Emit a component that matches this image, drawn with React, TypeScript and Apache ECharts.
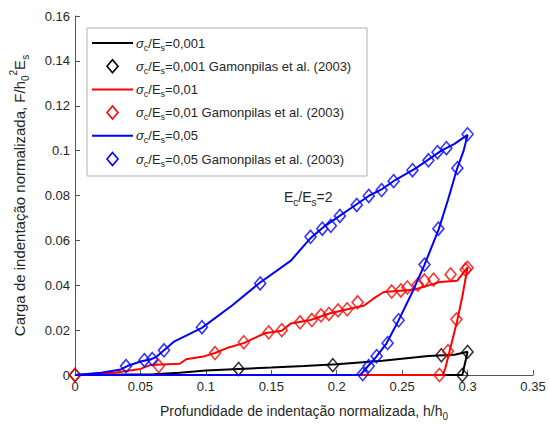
import React, { useEffect, useRef } from "react";
import * as echarts from "echarts";

// ---------- data ----------
const xTicks = [0, 0.05, 0.1, 0.15, 0.2, 0.25, 0.3, 0.35];
const yTicks = [0, 0.02, 0.04, 0.06, 0.08, 0.1, 0.12, 0.14, 0.16];

const seriesNames = [
  "σc/Es=0,001",
  "σc/Es=0,001 Gamonpilas et al. (2003)",
  "σc/Es=0,01",
  "σc/Es=0,01 Gamonpilas et al. (2003)",
  "σc/Es=0,05",
  "σc/Es=0,05 Gamonpilas et al. (2003)",
];

const colors = ["#000000", "#ff0000", "#0000ff"];

// simulation curves (loading, unloading, return along zero)
const line001: number[][] = [
  [0, 0], [0.06, 0.0003], [0.08, 0.001], [0.1, 0.002], [0.125, 0.0027], [0.15, 0.0033],
  [0.175, 0.004], [0.2, 0.0048], [0.235, 0.0064], [0.27, 0.0085], [0.29, 0.009],
  [0.3, 0.0104], [0.296, 0], [0, 0],
];
const pts001: number[][] = [
  [0, 0], [0.125, 0.0027], [0.197, 0.0044], [0.28, 0.0088], [0.3, 0.0103], [0.296, 0],
];

const line01: number[][] = [
  [0, 0], [0.03, 0.001], [0.05, 0.0027], [0.058, 0.0045], [0.066, 0.0047], [0.08, 0.005],
  [0.085, 0.007], [0.099, 0.0084], [0.107, 0.0098], [0.116, 0.012], [0.129, 0.0142],
  [0.137, 0.0164], [0.145, 0.0186], [0.158, 0.0197], [0.165, 0.023], [0.18, 0.0245],
  [0.195, 0.0275], [0.21, 0.0295], [0.221, 0.031], [0.228, 0.034], [0.236, 0.037],
  [0.259, 0.038], [0.279, 0.0415], [0.292, 0.042], [0.3, 0.048], [0.296, 0.035],
  [0.292, 0.024], [0.286, 0.01], [0.283, 0.003], [0.281, 0], [0, 0],
];
const pts01: number[][] = [
  [0, 0], [0.064, 0.004], [0.107, 0.0098], [0.129, 0.0146], [0.148, 0.019], [0.158, 0.02],
  [0.172, 0.0235], [0.181, 0.0245], [0.188, 0.0266], [0.194, 0.0272], [0.201, 0.0288],
  [0.208, 0.0293], [0.216, 0.0324], [0.242, 0.0372], [0.249, 0.0377], [0.254, 0.039],
  [0.262, 0.0403], [0.267, 0.0421], [0.274, 0.0425], [0.287, 0.0448], [0.3, 0.0478],
  [0.2985, 0.047], [0.2915, 0.0248], [0.285, 0.0106], [0.2785, 0],
];

const line05: number[][] = [
  [0, 0], [0.02, 0.001], [0.035, 0.0025], [0.04, 0.004], [0.05, 0.006], [0.058, 0.007],
  [0.062, 0.008], [0.068, 0.011], [0.076, 0.015], [0.097, 0.021], [0.12, 0.031],
  [0.141, 0.041], [0.165, 0.051], [0.18, 0.061], [0.19, 0.066], [0.2, 0.07],
  [0.215, 0.076], [0.225, 0.08], [0.235, 0.083], [0.245, 0.087], [0.26, 0.092],
  [0.27, 0.096], [0.28, 0.1], [0.29, 0.103], [0.3, 0.107], [0.297, 0.1], [0.292, 0.092],
  [0.285, 0.078], [0.278, 0.065], [0.267, 0.049], [0.257, 0.036], [0.247, 0.024],
  [0.238, 0.014], [0.23, 0.008], [0.224, 0.004], [0.218, 0], [0, 0],
];
const pts05: number[][] = [
  [0.039, 0.004], [0.053, 0.0066], [0.059, 0.0071], [0.068, 0.011], [0.097, 0.0213],
  [0.1415, 0.0408], [0.18, 0.0616], [0.189, 0.0652], [0.1955, 0.0665], [0.2024, 0.0709],
  [0.2153, 0.0758], [0.2245, 0.0798], [0.2343, 0.0824], [0.2435, 0.0864], [0.2579, 0.0913],
  [0.2701, 0.0957], [0.277, 0.0993], [0.2838, 0.1011], [0.3, 0.1073], [0.2922, 0.0922],
  [0.2777, 0.0652], [0.2671, 0.0492], [0.2473, 0.0244], [0.2389, 0.0142], [0.2305, 0.0084],
  [0.2245, 0.004], [0.2199, 0.0004],
];

const lines = [line001, line01, line05];
const points = [pts001, pts01, pts05];

const FONT = "'Liberation Sans', Arial, Helvetica, sans-serif";
const TXT = "#262626";

function richLabel(name: string) {
  return name.replace("σc/Es", "{sig|σ}{sub|c}/E{sub|s}");
}

export default function App() {
  const ref = useRef<HTMLDivElement>(null);

  useEffect(() => {
    if (!ref.current) return;
    const chart = echarts.init(ref.current, undefined, { renderer: "svg" });

    const series: any[] = [];
    for (let i = 0; i < 3; i++) {
      series.push({
        name: seriesNames[i * 2],
        type: "line",
        data: lines[i],
        symbol: "none",
        showSymbol: false,
        lineStyle: { color: colors[i], width: 2 },
        itemStyle: { color: colors[i] },
        z: 2 + i * 2,
      });
      series.push({
        name: seriesNames[i * 2 + 1],
        type: "scatter",
        data: points[i],
        symbol: "diamond",
        symbolSize: [11, 13],
        itemStyle: { color: "rgba(255,255,255,0)", borderColor: colors[i], borderWidth: 1.6 },
        z: 3 + i * 2,
      });
    }

    // legend drawn as graphic elements
    const legendX = 87;
    const legendY = 28;
    const legendW = 280;
    const legendH = 148;
    const rowY0 = 43;
    const rowStep = 23.2;
    const legendEls: any[] = [
      {
        type: "rect",
        shape: { x: legendX, y: legendY, width: legendW, height: legendH },
        style: { fill: "#ffffff", stroke: "#b0b0b0", lineWidth: 1 },
        z: 50,
      },
    ];
    seriesNames.forEach((nm, k) => {
      const cy = rowY0 + k * rowStep;
      const c = colors[Math.floor(k / 2)];
      if (k % 2 === 0) {
        legendEls.push({
          type: "line",
          shape: { x1: 92, y1: cy, x2: 133, y2: cy },
          style: { stroke: c, lineWidth: 2 },
          z: 51,
        });
      } else {
        legendEls.push({
          type: "polygon",
          shape: { points: [[112.5, cy - 6.5], [118, cy], [112.5, cy + 6.5], [107, cy]] },
          style: { fill: "none", stroke: c, lineWidth: 1.6 },
          z: 51,
        });
      }
      legendEls.push({
        type: "text",
        x: 136,
        y: cy,
        style: {
          text: richLabel(nm),
          fontFamily: FONT,
          fontSize: 13,
          fill: TXT,
          verticalAlign: "middle",
          lineHeight: 18,
          rich: {
            sig: { fontStyle: "italic", fontSize: 13, fontFamily: FONT, fill: TXT, lineHeight: 18 },
            sub: { fontSize: 9, fontFamily: FONT, fill: TXT, verticalAlign: "bottom", lineHeight: 7 },
          },
        },
        z: 51,
      });
    });

    const fmt = (v: number) => String(parseFloat(v.toFixed(4)));

    chart.setOption({
      animation: false,
      backgroundColor: "#ffffff",
      grid: { left: 73, right: 16, top: 16, bottom: 49, containLabel: false },
      xAxis: {
        type: "value",
        min: xTicks[0],
        max: xTicks[xTicks.length - 1],
        interval: xTicks[1] - xTicks[0],
        name: "Profundidade de indentação normalizada, h/h{sub|0}",
        nameLocation: "middle",
        nameGap: 26,
        nameTextStyle: {
          fontFamily: FONT,
          fontSize: 14,
          color: TXT,
          lineHeight: 20,
          rich: {
            sub: { fontSize: 10, fontFamily: FONT, color: TXT, verticalAlign: "bottom", lineHeight: 8 },
          },
        },
        axisLine: { lineStyle: { color: "#555555", width: 1 } },
        axisTick: { inside: true, length: 5, lineStyle: { color: "#555555" } },
        axisLabel: { fontFamily: FONT, fontSize: 13, color: TXT, margin: 5, formatter: fmt },
        splitLine: { show: false },
      },
      yAxis: {
        type: "value",
        min: yTicks[0],
        max: yTicks[yTicks.length - 1],
        interval: yTicks[1] - yTicks[0],
        name: "Carga de indentação normalizada, F/h{sub|0}{sup|2}E{sub|s}",
        nameLocation: "middle",
        nameRotate: 90,
        nameGap: 45,
        nameTextStyle: {
          fontFamily: FONT,
          fontSize: 15,
          color: TXT,
          lineHeight: 22,
          rich: {
            sub: { fontSize: 10, fontFamily: FONT, color: TXT, verticalAlign: "bottom", lineHeight: 8 },
            sup: { fontSize: 10, fontFamily: FONT, color: TXT, verticalAlign: "top", lineHeight: 8 },
          },
        },
        axisLine: { show: true, lineStyle: { color: "#555555", width: 1 } },
        axisTick: { show: true, inside: true, length: 5, lineStyle: { color: "#555555" } },
        axisLabel: { fontFamily: FONT, fontSize: 13, color: TXT, margin: 5, formatter: fmt },
        splitLine: { show: false },
      },
      graphic: [
        ...legendEls,
        {
          type: "text",
          x: 284,
          y: 197,
          style: {
            text: "E{sub|c}/E{sub|s}=2",
            fontFamily: FONT,
            fontSize: 14,
            fill: TXT,
            verticalAlign: "middle",
            lineHeight: 20,
            rich: {
              sub: { fontSize: 10, fontFamily: FONT, fill: TXT, verticalAlign: "bottom", lineHeight: 8 },
            },
          },
          z: 100,
        },
      ],
      series,
    });

    return () => chart.dispose();
  }, []);

  return <div ref={ref} style={{ width: 549, height: 426, position: "absolute", left: 0, top: 0 }} />;
}
